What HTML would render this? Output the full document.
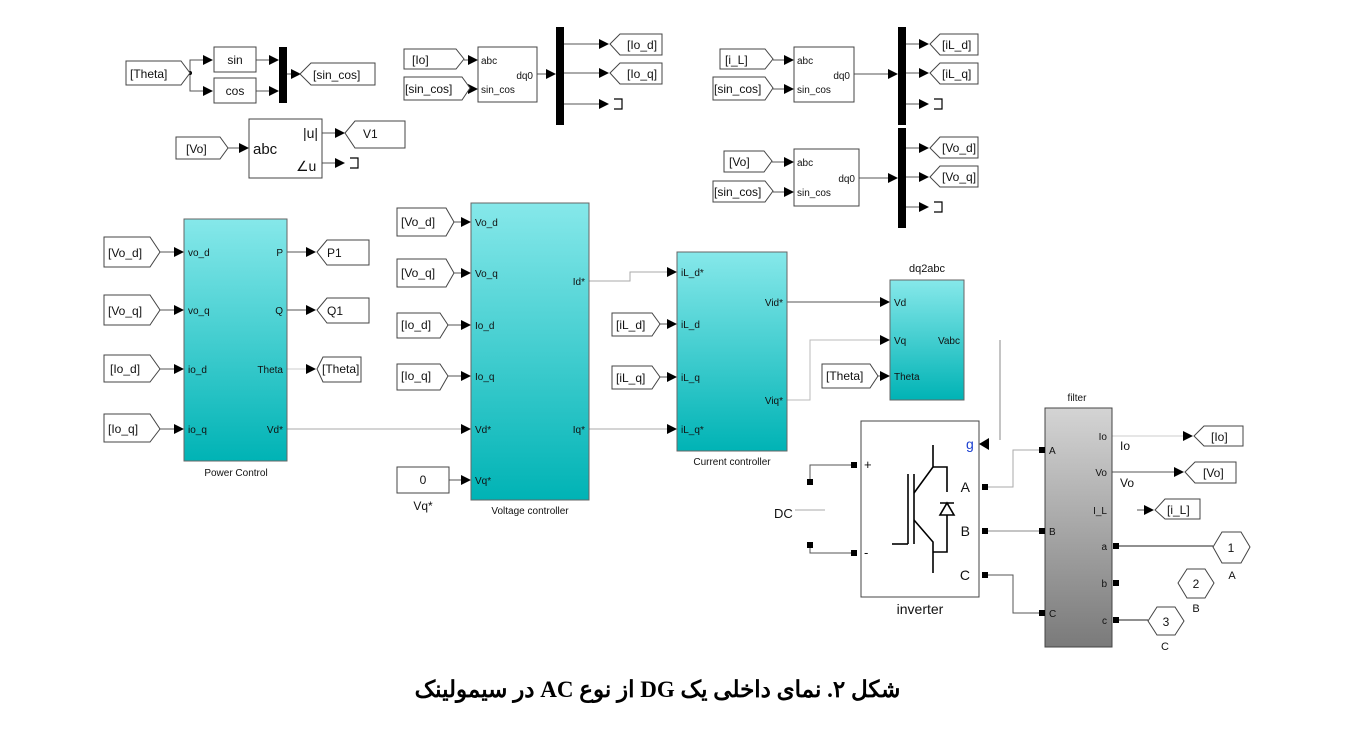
<!DOCTYPE html>
<html><head><meta charset="utf-8"><style>
body{margin:0;background:#fff;width:1372px;height:742px;overflow:hidden}
svg text{font-family:"Liberation Sans",Arial,sans-serif;fill:#111}
.cap{position:absolute;left:0;top:677px;width:1315px;text-align:center;font:bold 23px "Liberation Serif","DejaVu Serif",serif;direction:rtl}
</style></head><body>
<svg width="1372" height="742" viewBox="0 0 1372 742" xmlns="http://www.w3.org/2000/svg">
<defs>
<marker id="a" markerWidth="10" markerHeight="10" refX="9" refY="5" orient="auto" markerUnits="userSpaceOnUse"><path d="M0,0 L10,5 L0,10z" fill="#000"/></marker>
<linearGradient id="cy" x1="0" y1="0" x2="0" y2="1"><stop offset="0" stop-color="#86e8ea"/><stop offset="1" stop-color="#00b3b5"/></linearGradient>
<linearGradient id="gr" x1="0" y1="0" x2="0" y2="1"><stop offset="0" stop-color="#d4d4d4"/><stop offset="1" stop-color="#7a7a7a"/></linearGradient>
</defs>
<g stroke="#555" stroke-width="1" fill="none">
<polyline points="190,73 190,60 212,60" marker-end="url(#a)"/>
<polyline points="190,73 190,91 212,91" marker-end="url(#a)"/>
<line x1="256" y1="60" x2="278" y2="60" marker-end="url(#a)"/>
<line x1="256" y1="91" x2="278" y2="91" marker-end="url(#a)"/>
<line x1="287" y1="74" x2="300" y2="74" marker-end="url(#a)"/>
<line x1="228" y1="148" x2="248" y2="148" marker-end="url(#a)"/>
<line x1="322" y1="133" x2="344" y2="133" marker-end="url(#a)"/>
<line x1="322" y1="163" x2="344" y2="163" marker-end="url(#a)"/>
<line x1="464" y1="60" x2="477" y2="60" marker-end="url(#a)"/>
<line x1="470" y1="89" x2="477" y2="89" marker-end="url(#a)"/>
<line x1="537" y1="74" x2="555" y2="74" marker-end="url(#a)"/>
<line x1="563" y1="44" x2="608" y2="44" marker-end="url(#a)"/>
<line x1="563" y1="73" x2="608" y2="73" marker-end="url(#a)"/>
<line x1="563" y1="104" x2="608" y2="104" marker-end="url(#a)"/>
<line x1="773" y1="60" x2="793" y2="60" marker-end="url(#a)"/>
<line x1="773" y1="89" x2="793" y2="89" marker-end="url(#a)"/>
<line x1="854" y1="74" x2="897" y2="74" marker-end="url(#a)"/>
<line x1="905" y1="44" x2="928" y2="44" marker-end="url(#a)"/>
<line x1="905" y1="73" x2="928" y2="73" marker-end="url(#a)"/>
<line x1="905" y1="104" x2="928" y2="104" marker-end="url(#a)"/>
<line x1="772" y1="162" x2="793" y2="162" marker-end="url(#a)"/>
<line x1="773" y1="192" x2="793" y2="192" marker-end="url(#a)"/>
<line x1="859" y1="178" x2="897" y2="178" marker-end="url(#a)"/>
<line x1="905" y1="148" x2="928" y2="148" marker-end="url(#a)"/>
<line x1="905" y1="177" x2="928" y2="177" marker-end="url(#a)"/>
<line x1="905" y1="207" x2="928" y2="207" marker-end="url(#a)"/>
<line x1="160" y1="252" x2="183" y2="252" marker-end="url(#a)"/>
<line x1="160" y1="310" x2="183" y2="310" marker-end="url(#a)"/>
<line x1="160" y1="369" x2="183" y2="369" marker-end="url(#a)"/>
<line x1="160" y1="429" x2="183" y2="429" marker-end="url(#a)"/>
<line x1="287" y1="252" x2="315" y2="252" marker-end="url(#a)"/>
<line x1="287" y1="310" x2="315" y2="310" marker-end="url(#a)"/>
<line x1="287" y1="369" x2="315" y2="369" marker-end="url(#a)" stroke="#ccc"/>
<line x1="287" y1="429" x2="470" y2="429" marker-end="url(#a)" stroke="#aaa"/>
<line x1="454" y1="222" x2="470" y2="222" marker-end="url(#a)"/>
<line x1="454" y1="273" x2="470" y2="273" marker-end="url(#a)"/>
<line x1="448" y1="325" x2="470" y2="325" marker-end="url(#a)"/>
<line x1="448" y1="376" x2="470" y2="376" marker-end="url(#a)"/>
<line x1="449" y1="480" x2="470" y2="480" marker-end="url(#a)"/>
<polyline points="589,281 630,281 630,272 676,272" marker-end="url(#a)" stroke="#aaa"/>
<line x1="589" y1="429" x2="676" y2="429" marker-end="url(#a)" stroke="#aaa"/>
<line x1="660" y1="324" x2="676" y2="324" marker-end="url(#a)"/>
<line x1="660" y1="377" x2="676" y2="377" marker-end="url(#a)"/>
<line x1="787" y1="302" x2="889" y2="302" marker-end="url(#a)"/>
<polyline points="787,400 810,400 810,340 889,340" marker-end="url(#a)" stroke="#bbb"/>
<line x1="878" y1="376" x2="889" y2="376" marker-end="url(#a)"/>
<line x1="1000" y1="340" x2="1000" y2="440" stroke="#888"/>
<polyline points="853,465 810,465 810,482"/>
<polyline points="853,553 810,553 810,545"/>
<line x1="795" y1="510" x2="825" y2="510" stroke="#aaa"/>
<polyline points="988,487 1013,487 1013,450 1042,450" stroke="#aaa"/>
<line x1="988" y1="531" x2="1042" y2="531" stroke="#888"/>
<polyline points="988,575 1013,575 1013,613 1042,613"/>
<line x1="1112" y1="436" x2="1192" y2="436" marker-end="url(#a)" stroke="#ccc"/>
<line x1="1112" y1="472" x2="1183" y2="472" marker-end="url(#a)"/>
<line x1="1137" y1="510" x2="1153" y2="510" marker-end="url(#a)"/>
<line x1="1116" y1="546" x2="1213" y2="546" stroke="#222"/>
<line x1="1116" y1="620" x2="1148" y2="620" stroke="#222"/>
</g>
<path d="M979,444 L989,438 L989,450z" fill="#000"/>
<circle cx="190" cy="73" r="2" fill="#000"/>
<g fill="#000">
<rect x="279" y="47" width="8" height="56"/>
<rect x="556" y="27" width="8" height="98"/>
<rect x="898" y="27" width="8" height="98"/>
<rect x="898" y="128" width="8" height="100"/>
</g>
<g stroke="#000" fill="none" stroke-width="1.2">
<path d="M350,158 H358 V168 H350"/>
<path d="M614,99 H622 V109 H614"/>
<path d="M934,99 H942 V109 H934"/>
<path d="M934,202 H942 V212 H934"/>
</g>
<g fill="#fff" stroke="#444" stroke-width="1">
<rect x="214" y="47" width="42" height="25"/>
<rect x="214" y="78" width="42" height="25"/>
<rect x="249" y="119" width="73" height="59"/>
<rect x="478" y="47" width="59" height="55"/>
<rect x="794" y="47" width="60" height="55"/>
<rect x="794" y="149" width="65" height="57"/>
<rect x="397" y="467" width="52" height="26"/>
<rect x="861" y="421" width="118" height="176"/>
<path d="M126,61 H181 L190,73 L181,85 H126z"/>
<path d="M176,137 H220 L228,148 L220,159 H176z"/>
<path d="M404,49 H456 L464,59 L456,69 H404z"/>
<path d="M404,77 H462 L470,88 L462,100 H404z"/>
<path d="M720,49 H765 L773,59 L765,69 H720z"/>
<path d="M713,77 H765 L773,88 L765,100 H713z"/>
<path d="M724,151 H764 L772,161 L764,172 H724z"/>
<path d="M713,181 H765 L773,191 L765,202 H713z"/>
<path d="M104,237 H150 L160,252 L150,267 H104z"/>
<path d="M104,295 H150 L160,310 L150,325 H104z"/>
<path d="M104,355 H150 L160,369 L150,382 H104z"/>
<path d="M104,414 H150 L160,429 L150,442 H104z"/>
<path d="M397,208 H446 L454,222 L446,236 H397z"/>
<path d="M397,259 H446 L454,273 L446,287 H397z"/>
<path d="M397,313 H440 L448,325 L440,338 H397z"/>
<path d="M397,364 H440 L448,376 L440,390 H397z"/>
<path d="M612,313 H652 L660,324 L652,336 H612z"/>
<path d="M612,366 H652 L660,377 L652,389 H612z"/>
<path d="M822,364 H870 L878,376 L870,388 H822z"/>
<path d="M300,74 L311,63 H375 V85 H311z"/>
<path d="M345,133 L355,121 H405 V148 H355z"/>
<path d="M610,44 L620,34 H662 V55 H620z"/>
<path d="M610,73 L620,63 H662 V84 H620z"/>
<path d="M930,44 L940,34 H978 V55 H940z"/>
<path d="M930,73 L940,63 H978 V84 H940z"/>
<path d="M930,148 L940,137 H978 V158 H940z"/>
<path d="M930,177 L940,166 H978 V187 H940z"/>
<path d="M317,252 L327,240 H369 V265 H327z"/>
<path d="M317,310 L327,298 H369 V323 H327z"/>
<path d="M317,369 L323,357 H361 V382 H323z"/>
<path d="M1194,436 L1204,426 H1243 V446 H1204z"/>
<path d="M1185,472 L1195,462 H1236 V483 H1195z"/>
<path d="M1155,510 L1165,499 H1200 V519 H1165z"/>
<path d="M1213,547 L1222,532 H1241 L1250,547 L1241,563 H1222z"/>
<path d="M1178,583 L1187,569 H1205 L1214,583 L1205,598 H1187z"/>
<path d="M1148,621 L1157,607 H1175 L1184,621 L1175,635 H1157z"/>
</g>
<rect x="184" y="219" width="103" height="242" fill="url(#cy)" stroke="#666"/>
<rect x="471" y="203" width="118" height="297" fill="url(#cy)" stroke="#666"/>
<rect x="677" y="252" width="110" height="199" fill="url(#cy)" stroke="#666"/>
<rect x="890" y="280" width="74" height="120" fill="url(#cy)" stroke="#666"/>
<rect x="1045" y="408" width="67" height="239" fill="url(#gr)" stroke="#444"/>
<g fill="#000">
<rect x="851" y="462" width="6" height="6"/><rect x="851" y="550" width="6" height="6"/>
<rect x="982" y="484" width="6" height="6"/><rect x="982" y="528" width="6" height="6"/><rect x="982" y="572" width="6" height="6"/>
<rect x="807" y="479" width="6" height="6"/><rect x="807" y="542" width="6" height="6"/>
<rect x="1039" y="447" width="6" height="6"/><rect x="1039" y="528" width="6" height="6"/><rect x="1039" y="610" width="6" height="6"/>
<rect x="1113" y="543" width="6" height="6"/><rect x="1113" y="580" width="6" height="6"/><rect x="1113" y="617" width="6" height="6"/>
</g>
<g stroke="#000" stroke-width="1.6" fill="none">
<line x1="892" y1="544" x2="908" y2="544"/>
<line x1="908" y1="474" x2="908" y2="544"/>
<line x1="914" y1="474" x2="914" y2="544"/>
<polyline points="933,445 933,467 914,493"/>
<polyline points="914,520 933,542 933,573"/>
<polyline points="933,467 947,467 947,492"/>
<polyline points="933,552 947,552 947,515"/>
<path d="M940,515 L954,515 L947,503 Z M940,503 H954"/>
</g>
<g font-size="12">
<text x="235" y="64" text-anchor="middle">sin</text>
<text x="235" y="95" text-anchor="middle">cos</text>
<text x="130" y="78">[Theta]</text>
<text x="313" y="79">[sin_cos]</text>
<text x="253" y="154" font-size="15">abc</text>
<text x="303" y="138" font-size="14">|u|</text>
<text x="296" y="171" font-size="14">∠u</text>
<text x="186" y="153">[Vo]</text>
<text x="363" y="138">V1</text>
<text x="412" y="64">[Io]</text>
<text x="405" y="93">[sin_cos]</text>
<text x="481" y="64" font-size="10">abc</text>
<text x="533" y="79" font-size="10" text-anchor="end">dq0</text>
<text x="481" y="93" font-size="10">sin_cos</text>
<text x="627" y="49">[Io_d]</text>
<text x="627" y="78">[Io_q]</text>
<text x="725" y="64">[i_L]</text>
<text x="714" y="93">[sin_cos]</text>
<text x="797" y="64" font-size="10">abc</text>
<text x="850" y="79" font-size="10" text-anchor="end">dq0</text>
<text x="797" y="93" font-size="10">sin_cos</text>
<text x="942" y="49">[iL_d]</text>
<text x="942" y="78">[iL_q]</text>
<text x="729" y="166">[Vo]</text>
<text x="714" y="196">[sin_cos]</text>
<text x="797" y="166" font-size="10">abc</text>
<text x="855" y="182" font-size="10" text-anchor="end">dq0</text>
<text x="797" y="196" font-size="10">sin_cos</text>
<text x="942" y="152">[Vo_d]</text>
<text x="942" y="181">[Vo_q]</text>
<text x="108" y="257">[Vo_d]</text>
<text x="108" y="315">[Vo_q]</text>
<text x="110" y="373">[Io_d]</text>
<text x="108" y="433">[Io_q]</text>
<g font-size="10">
<text x="188" y="256">vo_d</text><text x="188" y="314">vo_q</text><text x="188" y="373">io_d</text><text x="188" y="433">io_q</text>
<text x="283" y="256" text-anchor="end">P</text><text x="283" y="314" text-anchor="end">Q</text><text x="283" y="373" text-anchor="end">Theta</text><text x="283" y="433" text-anchor="end">Vd*</text>
<text x="236" y="476" text-anchor="middle">Power Control</text>
<text x="475" y="226">Vo_d</text><text x="475" y="277">Vo_q</text><text x="475" y="329">Io_d</text><text x="475" y="380">Io_q</text><text x="475" y="433">Vd*</text><text x="475" y="484">Vq*</text>
<text x="585" y="285" text-anchor="end">Id*</text><text x="585" y="433" text-anchor="end">Iq*</text>
<text x="530" y="514" text-anchor="middle">Voltage controller</text>
<text x="681" y="276">iL_d*</text><text x="681" y="328">iL_d</text><text x="681" y="381">iL_q</text><text x="681" y="433">iL_q*</text>
<text x="783" y="306" text-anchor="end">Vid*</text><text x="783" y="404" text-anchor="end">Viq*</text>
<text x="732" y="465" text-anchor="middle">Current controller</text>
<text x="894" y="306">Vd</text><text x="894" y="344">Vq</text><text x="894" y="380">Theta</text><text x="960" y="344" text-anchor="end">Vabc</text>
<text x="1049" y="454">A</text><text x="1049" y="535">B</text><text x="1049" y="617">C</text>
<text x="1107" y="440" text-anchor="end">Io</text><text x="1107" y="476" text-anchor="end">Vo</text><text x="1107" y="514" text-anchor="end">I_L</text>
<text x="1107" y="550" text-anchor="end">a</text><text x="1107" y="587" text-anchor="end">b</text><text x="1107" y="624" text-anchor="end">c</text>
<text x="1077" y="401" text-anchor="middle">filter</text>
</g>
<text x="927" y="272" text-anchor="middle" font-size="11">dq2abc</text>
<text x="401" y="329">[Io_d]</text>
<text x="401" y="380">[Io_q]</text>
<text x="401" y="226">[Vo_d]</text>
<text x="401" y="277">[Vo_q]</text>
<text x="423" y="484" text-anchor="middle">0</text>
<text x="423" y="510" text-anchor="middle">Vq*</text>
<text x="327" y="257">P1</text><text x="327" y="315">Q1</text><text x="322" y="373">[Theta]</text>
<text x="616" y="329">[iL_d]</text><text x="616" y="382">[iL_q]</text>
<text x="826" y="380">[Theta]</text>
<text x="966" y="449" font-size="14" style="fill:#1a3fd0">g</text>
<text x="864" y="469" font-size="13">+</text><text x="864" y="557" font-size="13">-</text>
<text x="970" y="492" font-size="14" text-anchor="end">A</text>
<text x="970" y="536" font-size="14" text-anchor="end">B</text>
<text x="970" y="580" font-size="14" text-anchor="end">C</text>
<text x="920" y="614" font-size="14" text-anchor="middle">inverter</text>
<text x="774" y="518" font-size="13">DC</text>
<text x="1120" y="450">Io</text><text x="1120" y="487">Vo</text>
<text x="1211" y="441">[Io]</text><text x="1203" y="477">[Vo]</text><text x="1167" y="514">[i_L]</text>
<text x="1231" y="552" text-anchor="middle">1</text><text x="1196" y="588" text-anchor="middle">2</text><text x="1166" y="626" text-anchor="middle">3</text>
<text x="1232" y="579" text-anchor="middle" font-size="11">A</text><text x="1196" y="612" text-anchor="middle" font-size="11">B</text><text x="1165" y="650" text-anchor="middle" font-size="11">C</text>
</g>
</svg>
<div class="cap">شکل ۲. نمای داخلی یک DG از نوع AC در سیمولینک</div>
</body></html>
